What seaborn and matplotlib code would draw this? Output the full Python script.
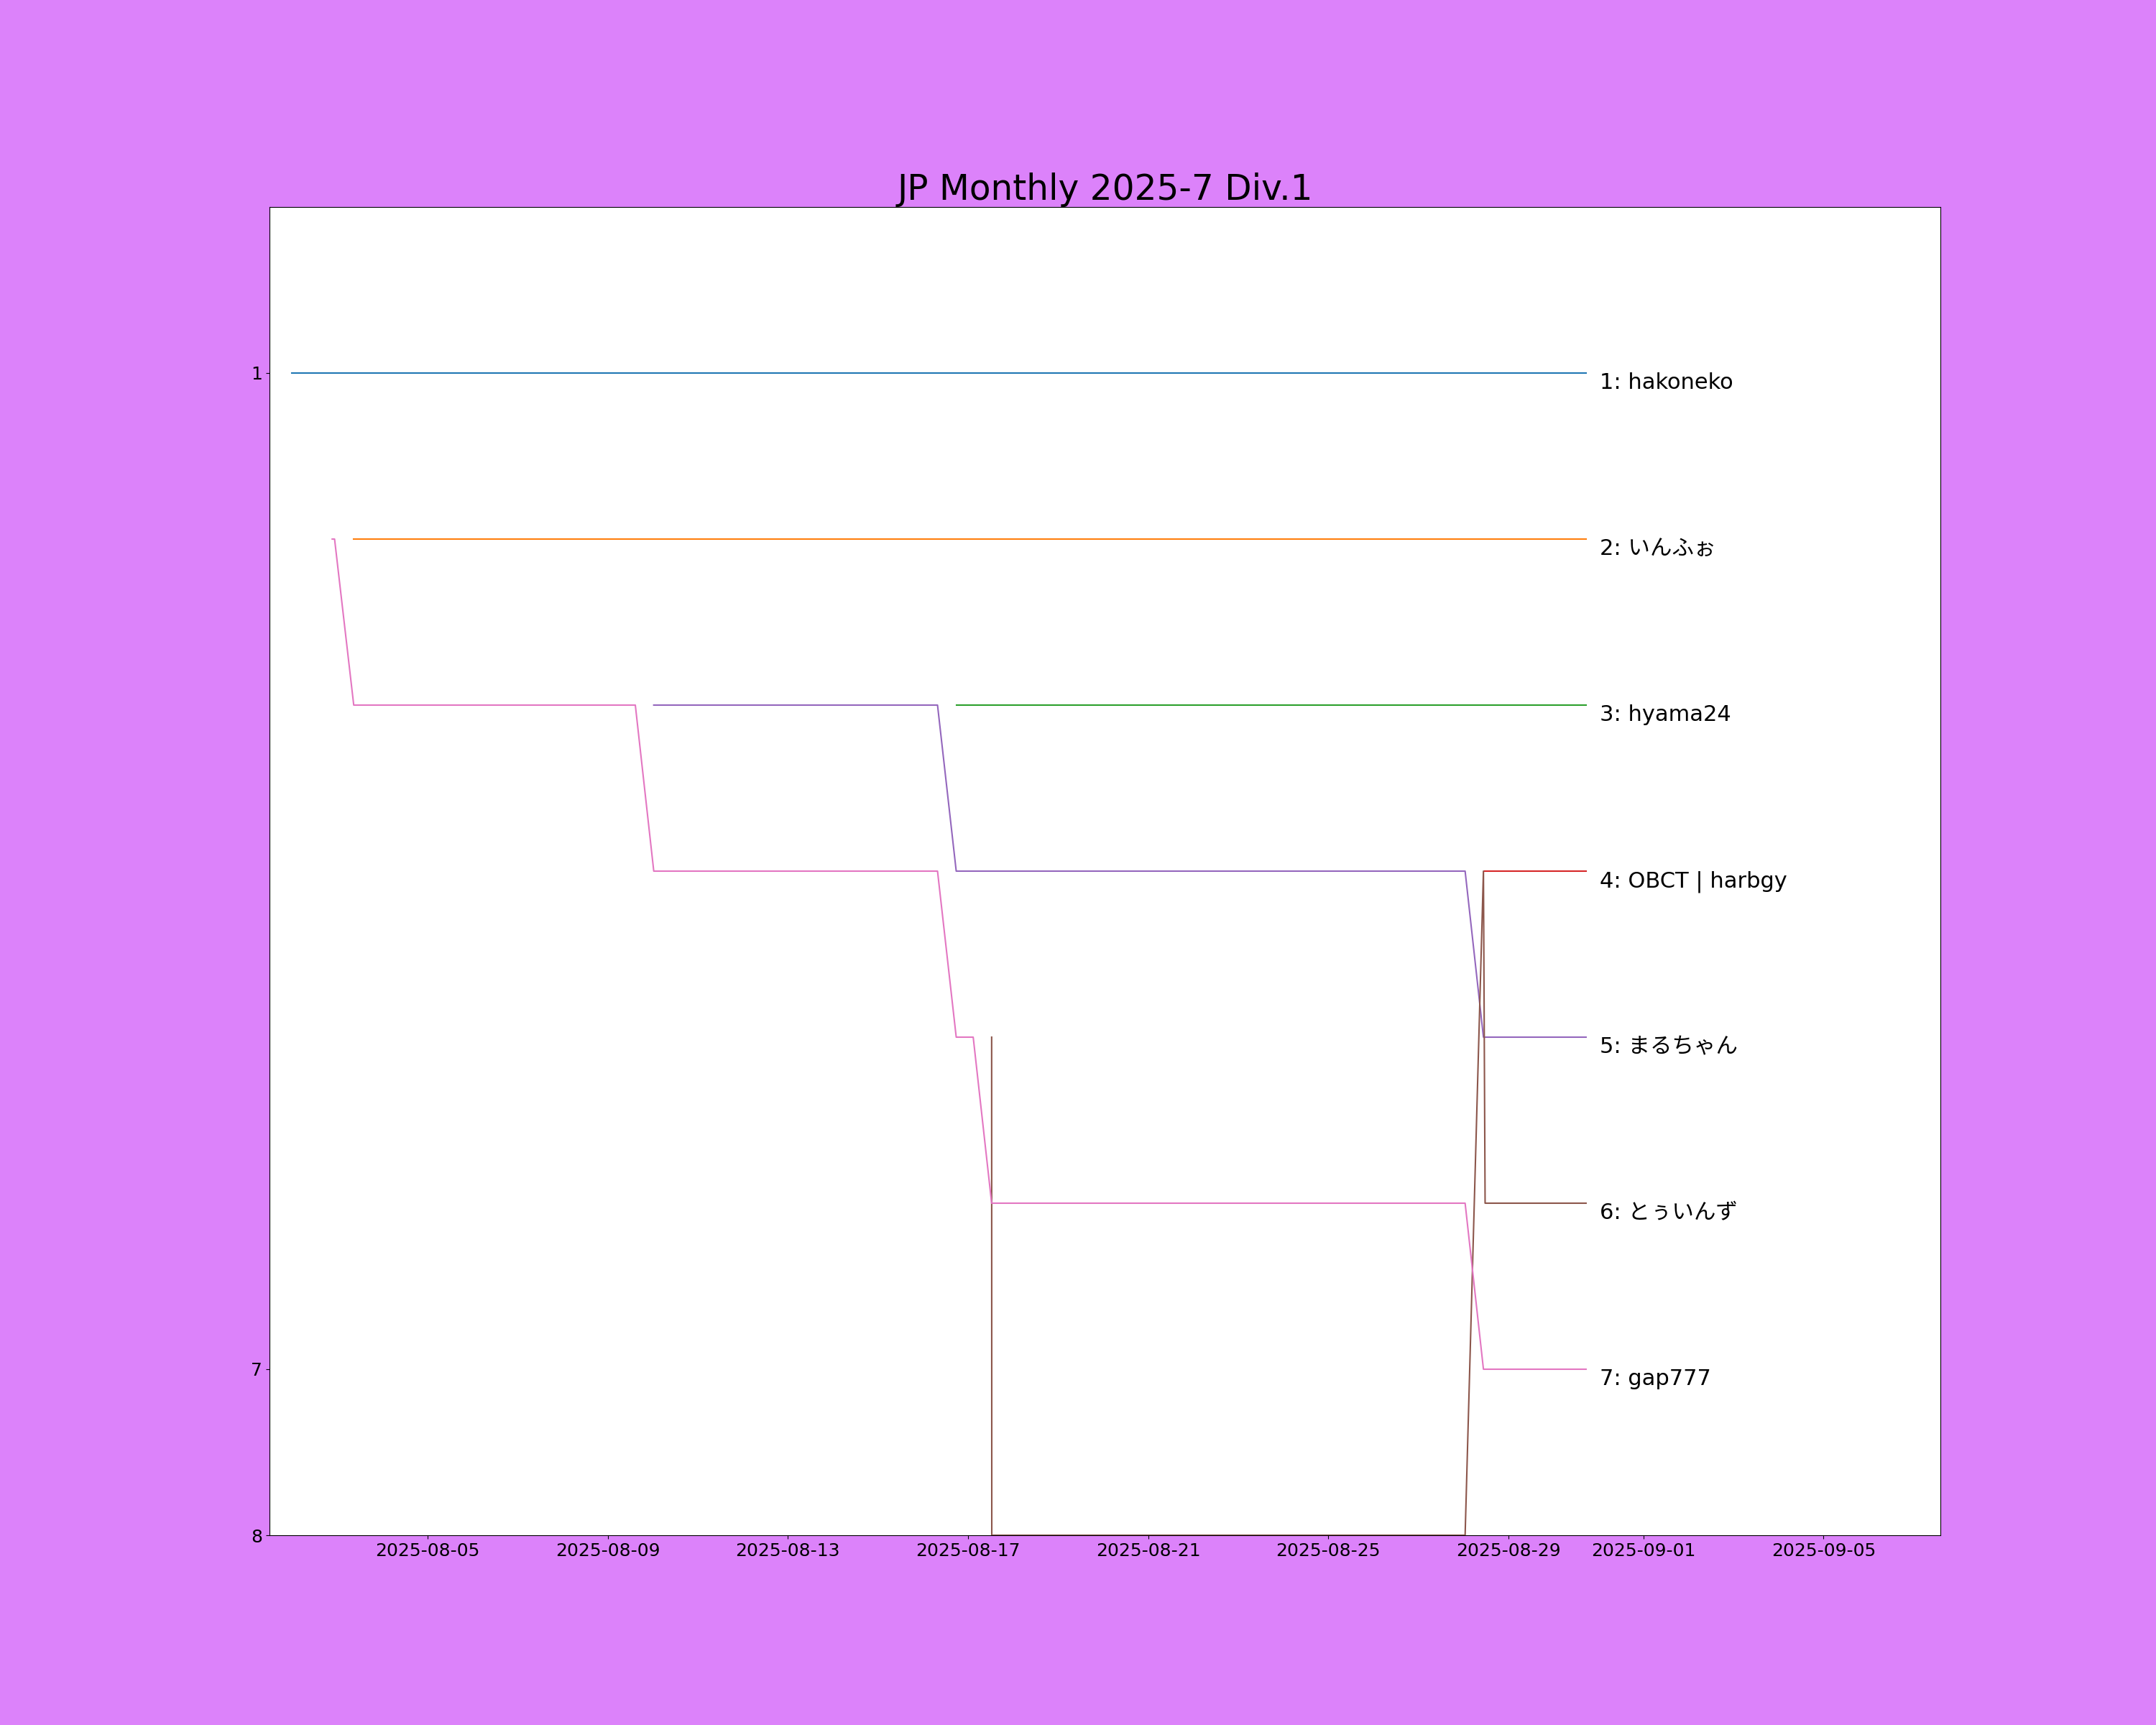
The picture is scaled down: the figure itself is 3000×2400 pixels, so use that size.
import matplotlib
matplotlib.use("Agg")
import matplotlib.pyplot as plt
import matplotlib.dates as mdates
import pandas as pd
import seaborn as sns

plt.rcParams["font.family"] = ["DejaVu Sans", "Noto Sans CJK JP"]

title = "JP Monthly 2025-7 Div.1"
players = ["hakoneko", "いんふぉ", "hyama24", "OBCT | harbgy", "まるちゃん", "とぅいんず", "gap777"]

hakoneko_times = ["2025-08-01 23:23", "2025-08-30 17:25"]
hakoneko_ranks = [1, 1]

info_times = ["2025-08-03 08:35", "2025-08-30 17:25"]
info_ranks = [2, 2]

hyama_times = ["2025-08-16 17:43", "2025-08-30 17:25"]
hyama_ranks = [3, 3]

obct_times = ["2025-08-28 11:37", "2025-08-30 17:25"]
obct_ranks = [4, 4]

maru_times = ["2025-08-10 00:30", "2025-08-16 07:45", "2025-08-16 17:43",
              "2025-08-28 00:58", "2025-08-28 10:44", "2025-08-30 17:25"]
maru_ranks = [3, 3, 4, 4, 5, 5]

twins_times = ["2025-08-17 12:36", "2025-08-17 12:40", "2025-08-28 00:58",
               "2025-08-28 10:44", "2025-08-28 11:37", "2025-08-30 17:25"]
twins_ranks = [5, 8, 8, 4, 6, 6]

gap_times = ["2025-08-02 21:06", "2025-08-02 22:22", "2025-08-03 08:35",
             "2025-08-09 14:40", "2025-08-10 00:30", "2025-08-16 07:45",
             "2025-08-16 17:43", "2025-08-17 02:46", "2025-08-17 12:36",
             "2025-08-28 00:58", "2025-08-28 10:44", "2025-08-30 17:25"]
gap_ranks = [2, 2, 3, 3, 4, 4, 5, 5, 6, 6, 7, 7]

series_times = [hakoneko_times, info_times, hyama_times, obct_times,
                maru_times, twins_times, gap_times]
series_ranks = [hakoneko_ranks, info_ranks, hyama_ranks, obct_ranks,
                maru_ranks, twins_ranks, gap_ranks]

y_ticks = [1, 7, 8]
x_limits = ["2025-08-01 11:41", "2025-09-07 14:18"]

rows = []
for name, ts, rs in zip(players, series_times, series_ranks):
    for t, r in zip(ts, rs):
        rows.append({"player": name, "time": pd.Timestamp(t), "rank": r})
df = pd.DataFrame(rows)

fig = plt.figure(figsize=(30, 24), dpi=100, facecolor="#dc82fa")
ax = fig.add_subplot(111)
ax.set_facecolor("white")

sns.lineplot(data=df, x="time", y="rank", hue="player", hue_order=players,
             palette="tab10", estimator=None, legend=False, linewidth=1.5, ax=ax)

for name, ts, rs in zip(players, series_times, series_ranks):
    ax.annotate(f"{rs[-1]}: {name}", xy=(pd.Timestamp(ts[-1]), rs[-1]),
                xytext=(14, -16), textcoords="offset points",
                ha="left", va="baseline", fontsize=22)

ax.set_xlim(pd.Timestamp(x_limits[0]), pd.Timestamp(x_limits[1]))
ax.set_ylim(8, 0)
ax.set_yticks(y_ticks)
ax.set_yticklabels([str(v) for v in y_ticks])
ax.xaxis.set_major_locator(mdates.DayLocator(bymonthday=range(1, 32, 4)))
ax.xaxis.set_major_formatter(mdates.DateFormatter("%Y-%m-%d"))
ax.tick_params(labelsize=18)
ax.set_xlabel("")
ax.set_ylabel("")
ax.set_title(title, fontsize=35)

fig.savefig("out.png", dpi=100, facecolor=fig.get_facecolor())
